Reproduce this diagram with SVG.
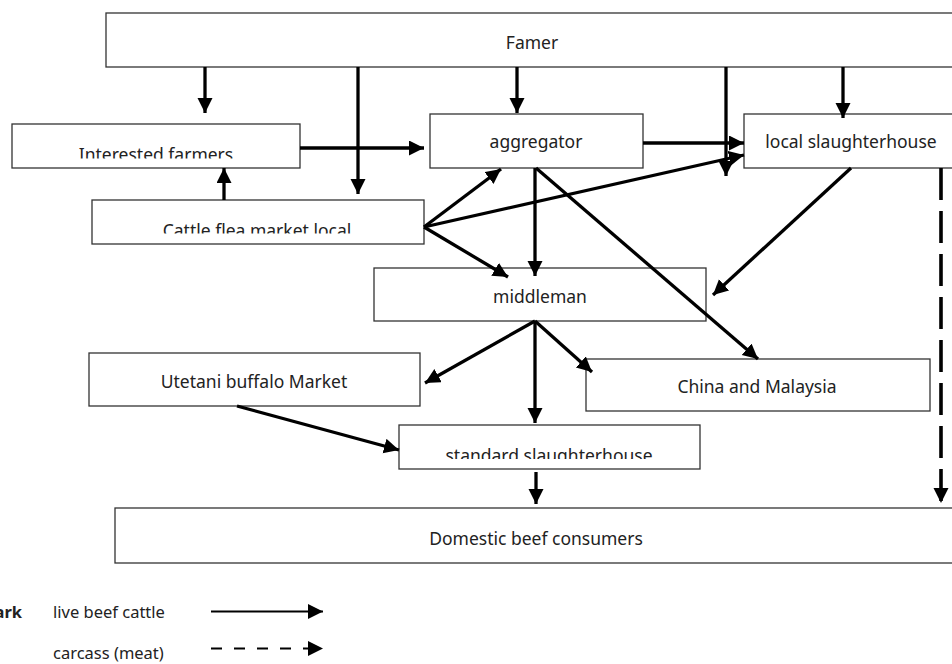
<svg xmlns="http://www.w3.org/2000/svg" width="952" height="664" viewBox="0 0 952 664">
<style>
.box{fill:#fff;stroke:#333;stroke-width:1.3}
.t{font-family:"Noto Sans","Open Sans",sans-serif;font-size:17.5px;fill:#222;text-anchor:middle}
.c{stroke:#000;stroke-width:3.3;fill:none}
.d{stroke-dasharray:32,11;stroke-width:3.6}
.l{font-family:"Noto Sans","Open Sans",sans-serif;font-size:16.5px;fill:#222}
</style>
<defs>
<marker id="a" markerUnits="userSpaceOnUse" markerWidth="16" markerHeight="16" refX="15" refY="7.5" orient="auto">
<path d="M0,0 L15,7.5 L0,15 z" fill="#000"/>
</marker>
<clipPath id="c1"><rect x="0" y="0" width="952" height="158.5"/></clipPath>
<clipPath id="c2"><rect x="0" y="0" width="952" height="233.5"/></clipPath>
<clipPath id="c3"><rect x="0" y="0" width="952" height="459"/></clipPath>
</defs>
<rect width="952" height="664" fill="#fff"/>
<g id="famer"><rect class="box" x="106" y="13" width="850" height="54"/><text class="t" x="532" y="49">Famer</text></g>
<g id="interested"><rect class="box" x="12" y="124" width="288" height="44"/><text class="t" x="156" y="161" clip-path="url(#c1)">Interested farmers</text></g>
<g id="cattle"><rect class="box" x="92" y="200" width="332" height="44"/><text class="t" x="257" y="237" clip-path="url(#c2)">Cattle flea market local</text></g>
<g id="aggregator"><rect class="box" x="430" y="114" width="213" height="54"/><text class="t" x="536" y="148">aggregator</text></g>
<g id="local"><rect class="box" x="744" y="114" width="212" height="54"/><text class="t" x="851" y="148">local slaughterhouse</text></g>
<g id="middleman"><rect class="box" x="374" y="268" width="332" height="53"/><text class="t" x="540" y="303">middleman</text></g>
<g id="utetani"><rect class="box" x="89" y="353" width="331" height="53"/><text class="t" x="254" y="388">Utetani buffalo Market</text></g>
<g id="china"><rect class="box" x="586" y="359" width="344" height="52"/><text class="t" x="757" y="393">China and Malaysia</text></g>
<g id="standard"><rect class="box" x="399" y="425" width="301" height="44"/><text class="t" x="549" y="462" clip-path="url(#c3)">standard slaughterhouse</text></g>
<g id="domestic"><rect class="box" x="115" y="508" width="841" height="55"/><text class="t" x="536" y="545">Domestic beef consumers</text></g>
<g id="connectors">
<line class="c" x1="205" y1="67" x2="205" y2="113" marker-end="url(#a)"/>
<line class="c" x1="358" y1="67" x2="358" y2="194" marker-end="url(#a)"/>
<line class="c" x1="224" y1="200" x2="224" y2="168" marker-end="url(#a)"/>
<line class="c" x1="300" y1="148" x2="424" y2="148" marker-end="url(#a)"/>
<line class="c" x1="517" y1="67" x2="517" y2="113" marker-end="url(#a)"/>
<line class="c" x1="726" y1="67" x2="726" y2="176" marker-end="url(#a)"/>
<line class="c" x1="843" y1="67" x2="843" y2="118" marker-end="url(#a)"/>
<line class="c" x1="643" y1="143" x2="744" y2="143" marker-end="url(#a)"/>
<line class="c" x1="424" y1="227" x2="744" y2="155" marker-end="url(#a)"/>
<line class="c" x1="424" y1="227" x2="501" y2="169" marker-end="url(#a)"/>
<line class="c" x1="424" y1="227" x2="508" y2="277" marker-end="url(#a)"/>
<line class="c" x1="535" y1="168" x2="535" y2="276" marker-end="url(#a)"/>
<line class="c" x1="536" y1="168" x2="758" y2="359" marker-end="url(#a)"/>
<line class="c" x1="851" y1="168" x2="713" y2="295" marker-end="url(#a)"/>
<line class="c d" x1="941" y1="168" x2="941" y2="503" marker-end="url(#a)"/>
<line class="c" x1="535" y1="321" x2="425" y2="383" marker-end="url(#a)"/>
<line class="c" x1="535" y1="321" x2="535" y2="423" marker-end="url(#a)"/>
<line class="c" x1="535" y1="321" x2="592" y2="372" marker-end="url(#a)"/>
<line class="c" x1="237" y1="406" x2="399" y2="450" marker-end="url(#a)"/>
<line class="c" x1="536" y1="472" x2="536" y2="504" marker-end="url(#a)"/>
</g>
<g id="legend">
<text class="l" x="22" y="618" style="font-weight:bold;text-anchor:end">ark</text>
<text class="l" x="53" y="618">live beef cattle</text>
<text class="l" x="53" y="659">carcass (meat)</text>
<line x1="211" y1="611.5" x2="323" y2="611.5" stroke="#000" stroke-width="2" marker-end="url(#a)"/>
<line x1="211" y1="648.5" x2="323" y2="648.5" stroke="#000" stroke-width="2" stroke-dasharray="11,12" marker-end="url(#a)"/>
</g>
</svg>
